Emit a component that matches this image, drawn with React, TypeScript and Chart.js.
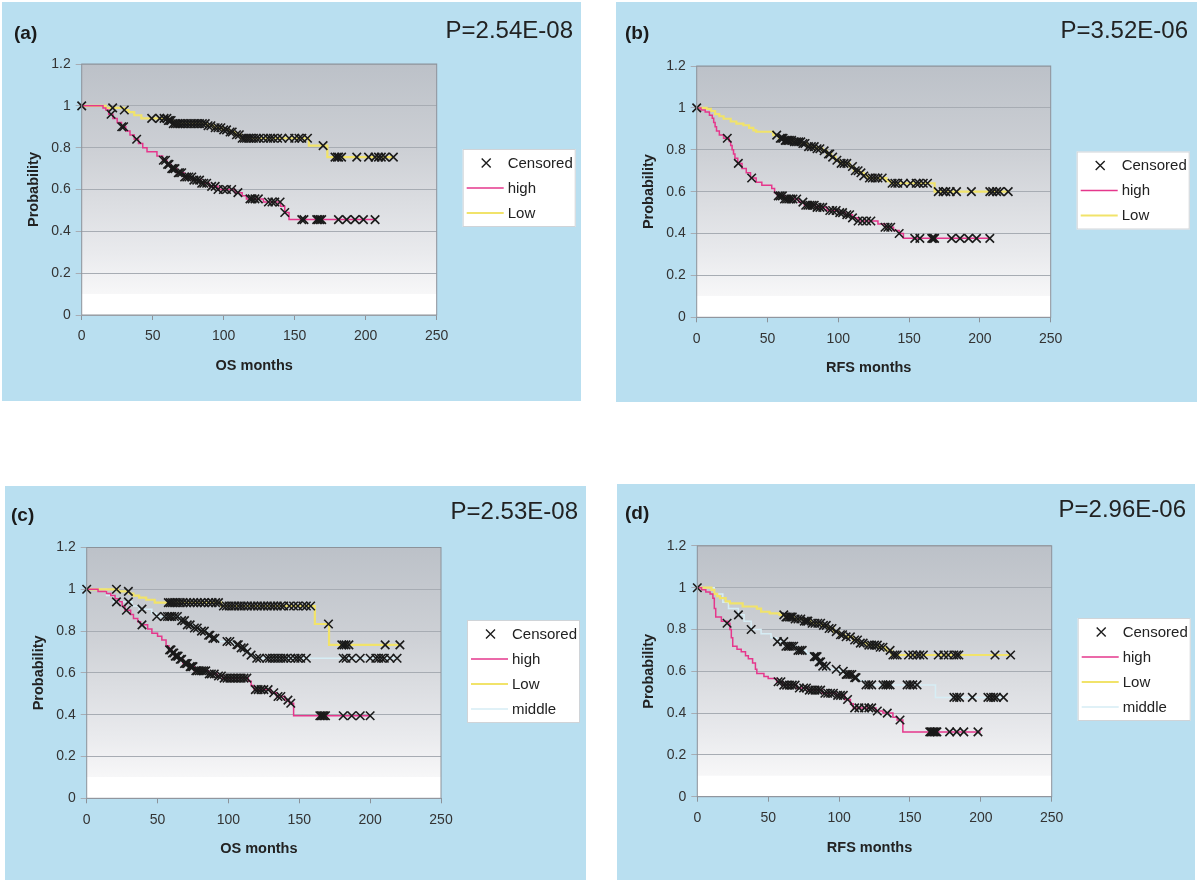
import React, { useEffect, useRef } from "react";
import { Chart, registerables } from "chart.js";
Chart.register(...registerables);

const FONT = "'Liberation Sans', Arial, Helvetica, sans-serif";
const PANEL_BG = "#b9dff0";

const xTickValues = [0, 50, 100, 150, 200, 250];
const xTickLabels = ["0", "50", "100", "150", "200", "250"];
const yTickValues = [0, 0.2, 0.4, 0.6, 0.8, 1, 1.2];
const yTickLabels = ["0", "0.2", "0.4", "0.6", "0.8", "1", "1.2"];

// ---------- Panel (a) OS, high / Low ----------
const aHighT = [0, 15, 17, 19, 22, 25, 28, 31, 34, 37, 40, 43, 46, 53, 57, 60, 63, 67, 72, 78, 84, 90, 96, 108, 113, 116, 128, 140, 143, 146, 207];
const aHighP = [1, 0.99, 0.98, 0.96, 0.94, 0.92, 0.9, 0.88, 0.86, 0.84, 0.82, 0.8, 0.78, 0.76, 0.74, 0.72, 0.7, 0.68, 0.66, 0.645, 0.63, 0.615, 0.6, 0.585, 0.57, 0.555, 0.54, 0.52, 0.49, 0.456, 0.456];
const aLowT = [0, 17, 30, 33, 37, 42, 61, 64, 88, 93, 99, 104, 108, 112, 160, 173, 220];
const aLowP = [1, 0.99, 0.98, 0.97, 0.955, 0.94, 0.93, 0.915, 0.905, 0.895, 0.885, 0.875, 0.862, 0.845, 0.81, 0.755, 0.755];
const aCensHigh = [[20.7, 0.96], [28.2, 0.9], [29.5, 0.9], [38.7, 0.84], [57.5, 0.74], [59, 0.74], [60.5, 0.72], [61.5, 0.72], [63.4, 0.7], [64.5, 0.7], [65.7, 0.7], [68, 0.68], [69, 0.68], [70.4, 0.68], [72.5, 0.66], [74, 0.66], [75.5, 0.66], [77.5, 0.66], [79, 0.645], [81, 0.645], [83, 0.645], [84.5, 0.63], [86, 0.63], [88, 0.63], [91.5, 0.615], [94, 0.615], [96, 0.6], [99.8, 0.6], [102, 0.6], [105.6, 0.6], [110, 0.585], [118.5, 0.555], [120, 0.555], [122, 0.555], [124.4, 0.555], [131.5, 0.54], [134, 0.54], [136, 0.54], [139.7, 0.54], [143, 0.49], [155, 0.456], [156.5, 0.456], [165.5, 0.456], [166.5, 0.456], [167.8, 0.456], [169, 0.456], [180.8, 0.456], [186.6, 0.456], [192.5, 0.456], [198.4, 0.456], [206.6, 0.456]];
const aCensLow = [[0, 1], [21.8, 0.99], [30, 0.98], [49.3, 0.94], [55, 0.94], [58, 0.94], [60, 0.94], [61, 0.93], [62, 0.93], [63, 0.93], [64.5, 0.915], [66, 0.915], [67.5, 0.915], [69, 0.915], [71, 0.915], [73, 0.915], [75, 0.915], [77, 0.915], [79, 0.915], [81, 0.915], [83, 0.915], [85, 0.915], [87, 0.915], [89, 0.905], [91, 0.905], [94, 0.895], [96, 0.895], [98, 0.895], [100, 0.885], [102, 0.885], [104.5, 0.875], [106, 0.875], [109, 0.862], [111, 0.862], [113, 0.845], [114.5, 0.845], [116, 0.845], [117.5, 0.845], [119, 0.845], [121, 0.845], [123, 0.845], [125, 0.845], [128, 0.845], [131, 0.845], [133, 0.845], [135, 0.845], [138, 0.845], [141, 0.845], [146, 0.845], [150, 0.845], [153, 0.845], [155, 0.845], [159, 0.845], [170, 0.81], [178.4, 0.755], [180, 0.755], [181, 0.755], [183, 0.755], [193.7, 0.755], [202, 0.755], [206.6, 0.755], [209, 0.755], [211, 0.755], [213.6, 0.755], [219.5, 0.755]];

// ---------- Panel (b) RFS, high / Low ----------
const bHighT = [0, 3, 6, 9, 11, 12, 13, 14, 16, 19, 23, 24, 25, 26, 27, 29, 32, 35, 38, 42, 46, 53, 55, 57, 62, 72, 76, 84, 92, 100, 105, 110, 114, 128, 133, 139, 143, 146, 207];
const bHighP = [1, 0.99, 0.98, 0.965, 0.95, 0.93, 0.91, 0.89, 0.87, 0.855, 0.84, 0.82, 0.8, 0.78, 0.76, 0.735, 0.71, 0.69, 0.665, 0.645, 0.63, 0.615, 0.595, 0.58, 0.565, 0.55, 0.535, 0.525, 0.51, 0.5, 0.49, 0.475, 0.46, 0.445, 0.43, 0.415, 0.4, 0.377, 0.377];
const bLowT = [0, 7, 10, 13, 16, 19, 24, 28, 33, 37, 40, 42, 54, 58, 62, 68, 74, 78, 84, 89, 92, 95, 98, 101, 108, 111, 115, 118, 121, 134, 137, 168, 221];
const bLowP = [1, 0.995, 0.985, 0.97, 0.96, 0.948, 0.935, 0.925, 0.917, 0.905, 0.893, 0.886, 0.87, 0.855, 0.845, 0.838, 0.83, 0.815, 0.805, 0.795, 0.78, 0.765, 0.75, 0.735, 0.72, 0.7, 0.69, 0.675, 0.665, 0.65, 0.64, 0.6, 0.6];
const bCensHigh = [[21.6, 0.855], [29.4, 0.735], [38.8, 0.665], [57.6, 0.58], [59, 0.58], [60.5, 0.58], [62, 0.565], [63.5, 0.565], [65, 0.565], [66.5, 0.565], [68, 0.565], [70.6, 0.565], [75, 0.55], [77, 0.535], [78.5, 0.535], [80, 0.535], [81.5, 0.535], [83, 0.535], [85, 0.525], [87, 0.525], [89, 0.525], [94, 0.51], [96, 0.51], [98.5, 0.51], [101, 0.5], [103, 0.5], [106, 0.49], [108, 0.49], [110, 0.475], [114, 0.46], [117, 0.46], [120, 0.46], [123, 0.46], [133, 0.43], [135, 0.43], [137, 0.43], [143, 0.4], [154, 0.377], [157.6, 0.377], [166, 0.377], [167, 0.377], [168, 0.377], [180, 0.377], [186, 0.377], [192, 0.377], [197.6, 0.377], [207, 0.377]];
const bCensLow = [[0, 1], [56.5, 0.87], [59, 0.855], [60, 0.855], [61, 0.855], [62.5, 0.845], [63.5, 0.845], [64.5, 0.845], [65.5, 0.845], [67, 0.845], [69, 0.838], [70.5, 0.838], [72, 0.838], [73.5, 0.838], [75, 0.83], [76.5, 0.83], [79, 0.815], [81, 0.815], [83, 0.815], [85, 0.805], [87, 0.805], [90, 0.795], [93, 0.78], [94, 0.78], [96, 0.765], [99, 0.75], [102, 0.735], [104, 0.735], [106, 0.735], [110, 0.72], [112, 0.7], [114, 0.7], [116, 0.69], [118, 0.675], [122, 0.665], [124, 0.665], [126, 0.665], [128, 0.665], [131, 0.665], [138, 0.64], [140, 0.64], [142, 0.64], [146, 0.64], [151, 0.64], [155, 0.64], [157, 0.64], [160, 0.64], [163, 0.64], [170.6, 0.6], [174, 0.6], [176, 0.6], [179, 0.6], [183.5, 0.6], [194, 0.6], [207, 0.6], [209, 0.6], [211.8, 0.6], [214, 0.6], [220, 0.6]];

// ---------- Panel (c) OS, high / Low / middle ----------
const cHighT = [0, 8, 14, 17, 20, 23, 25, 27, 31, 33, 36, 38, 43, 46, 50, 53, 56, 58, 60, 62, 65, 68, 72, 76, 86, 92, 96, 114, 116, 118, 130, 134, 140, 143, 146, 200];
const cHighP = [1, 0.99, 0.98, 0.97, 0.955, 0.94, 0.92, 0.9, 0.88, 0.86, 0.845, 0.83, 0.81, 0.79, 0.775, 0.757, 0.73, 0.71, 0.695, 0.68, 0.665, 0.645, 0.63, 0.61, 0.595, 0.585, 0.575, 0.56, 0.54, 0.52, 0.505, 0.487, 0.47, 0.455, 0.395, 0.395];
const cLowT = [0, 22, 30, 33, 37, 42, 48, 95, 161, 171, 221];
const cLowP = [1, 0.99, 0.98, 0.97, 0.96, 0.95, 0.936, 0.92, 0.834, 0.734, 0.734];
const cMidT = [0, 14, 19, 32, 37, 46, 49, 66, 70, 75, 80, 85, 88, 92, 104, 108, 112, 115, 118, 219];
const cMidP = [1, 0.97, 0.94, 0.92, 0.905, 0.885, 0.87, 0.85, 0.83, 0.815, 0.8, 0.78, 0.765, 0.75, 0.735, 0.72, 0.7, 0.685, 0.67, 0.67];
const cCensHigh = [[28, 0.9], [39, 0.83], [58.5, 0.71], [59.5, 0.71], [60.5, 0.695], [61.5, 0.695], [62.5, 0.68], [63.5, 0.68], [64.5, 0.68], [66, 0.665], [67, 0.665], [69, 0.645], [70, 0.645], [71, 0.645], [73, 0.63], [74, 0.63], [75, 0.63], [77, 0.61], [78, 0.61], [79.5, 0.61], [81, 0.61], [82.5, 0.61], [84, 0.61], [86.5, 0.595], [88, 0.595], [90, 0.595], [93, 0.585], [95, 0.585], [97, 0.575], [99, 0.575], [101, 0.575], [103, 0.575], [105, 0.575], [107, 0.575], [109, 0.575], [111, 0.575], [113, 0.575], [119, 0.52], [121, 0.52], [123, 0.52], [125, 0.52], [128, 0.52], [132, 0.505], [135, 0.487], [137, 0.487], [142, 0.47], [144, 0.455], [164.5, 0.395], [165.5, 0.395], [166.5, 0.395], [167.5, 0.395], [168.5, 0.395], [181, 0.395], [187, 0.395], [193, 0.395], [200, 0.395]];
const cCensLow = [[0, 1], [21, 1], [29.4, 0.99], [57.6, 0.936], [59, 0.936], [60.5, 0.936], [62, 0.936], [64, 0.936], [66, 0.936], [68, 0.936], [70.5, 0.936], [73, 0.936], [75.5, 0.936], [78, 0.936], [80.5, 0.936], [83, 0.936], [86, 0.936], [88.5, 0.936], [91, 0.936], [93, 0.936], [96.5, 0.92], [98.5, 0.92], [100.5, 0.92], [102.5, 0.92], [104.5, 0.92], [107, 0.92], [109, 0.92], [111, 0.92], [113.5, 0.92], [116, 0.92], [118, 0.92], [120.5, 0.92], [123, 0.92], [125, 0.92], [127.5, 0.92], [130, 0.92], [132, 0.92], [134.5, 0.92], [137, 0.92], [139, 0.92], [143, 0.92], [146, 0.92], [149, 0.92], [152.5, 0.92], [155, 0.92], [158, 0.92], [170.6, 0.834], [180, 0.734], [181.5, 0.734], [183, 0.734], [185, 0.734], [210.6, 0.734], [221, 0.734]];
const cCensMid = [[21, 0.94], [29.4, 0.94], [39, 0.905], [49.4, 0.87], [55, 0.87], [57, 0.87], [58.5, 0.87], [60, 0.87], [62, 0.87], [64, 0.87], [67, 0.85], [69, 0.85], [71, 0.83], [73, 0.83], [76, 0.815], [78, 0.815], [81, 0.8], [83, 0.8], [86, 0.78], [87, 0.78], [89, 0.765], [90.5, 0.765], [99, 0.75], [101, 0.75], [106, 0.735], [107, 0.735], [109, 0.72], [111, 0.72], [113, 0.7], [116, 0.685], [120, 0.67], [122, 0.67], [127, 0.67], [129, 0.67], [131, 0.67], [133, 0.67], [135, 0.67], [137, 0.67], [139, 0.67], [141, 0.67], [144, 0.67], [147, 0.67], [149, 0.67], [151, 0.67], [155, 0.67], [181, 0.67], [183, 0.67], [187, 0.67], [193, 0.67], [200, 0.67], [204, 0.67], [206, 0.67], [208, 0.67], [210, 0.67], [214, 0.67], [219, 0.67]];

// ---------- Panel (d) RFS, high / Low / middle ----------
const dHighT = [0, 3, 6, 9, 11, 12, 13, 17, 21, 23, 24, 25, 28, 31, 34, 36, 39, 41, 42, 47, 50, 56, 60, 70, 78, 88, 98, 104, 108, 110, 126, 131, 138, 141, 145, 200];
const dHighP = [1, 0.99, 0.98, 0.97, 0.95, 0.9, 0.86, 0.84, 0.83, 0.8, 0.76, 0.72, 0.705, 0.694, 0.675, 0.66, 0.64, 0.61, 0.59, 0.575, 0.566, 0.55, 0.534, 0.52, 0.51, 0.495, 0.485, 0.465, 0.445, 0.425, 0.41, 0.4, 0.38, 0.367, 0.31, 0.31];
const dLowT = [0, 10, 12, 14, 16, 20, 23, 32, 42, 45, 51, 58, 62, 68, 75, 80, 88, 92, 96, 100, 104, 110, 114, 120, 128, 133, 137, 221];
const dLowP = [1, 0.99, 0.97, 0.96, 0.95, 0.935, 0.925, 0.91, 0.9, 0.885, 0.877, 0.87, 0.86, 0.85, 0.84, 0.83, 0.82, 0.805, 0.79, 0.775, 0.765, 0.75, 0.735, 0.725, 0.715, 0.7, 0.678, 0.678];
const dMidT = [0, 12, 18, 22, 29, 33, 38, 45, 52, 56, 62, 70, 77, 82, 85, 88, 92, 100, 104, 110, 114, 118, 168, 217];
const dMidP = [1, 0.97, 0.93, 0.9, 0.87, 0.84, 0.8, 0.78, 0.76, 0.742, 0.72, 0.7, 0.685, 0.67, 0.645, 0.625, 0.61, 0.6, 0.585, 0.57, 0.555, 0.535, 0.475, 0.475];
const dCensHigh = [[21, 0.83], [57, 0.55], [59, 0.55], [61, 0.534], [63, 0.534], [65, 0.534], [67, 0.534], [69, 0.534], [72, 0.52], [75, 0.52], [77, 0.52], [79, 0.51], [81, 0.51], [83, 0.51], [85, 0.51], [87, 0.51], [90, 0.495], [92, 0.495], [94, 0.495], [96, 0.495], [99, 0.485], [101, 0.485], [103, 0.485], [106, 0.465], [111, 0.425], [114, 0.425], [118, 0.425], [121, 0.425], [123, 0.425], [127, 0.41], [134, 0.4], [143, 0.367], [164, 0.31], [165, 0.31], [166, 0.31], [167, 0.31], [168, 0.31], [169, 0.31], [178, 0.31], [183, 0.31], [188, 0.31], [198, 0.31]];
const dCensLow = [[0, 1], [61, 0.87], [62.5, 0.86], [63.5, 0.86], [65, 0.86], [66, 0.86], [67, 0.86], [69, 0.85], [71, 0.85], [73, 0.85], [75.5, 0.84], [77, 0.84], [78, 0.84], [81, 0.83], [83, 0.83], [85, 0.83], [87, 0.83], [89, 0.82], [91, 0.82], [93, 0.805], [95, 0.805], [98, 0.79], [101, 0.775], [102.5, 0.775], [105, 0.765], [108, 0.765], [111, 0.75], [113, 0.75], [115, 0.735], [117, 0.735], [121, 0.725], [123, 0.725], [125, 0.725], [127, 0.725], [129, 0.715], [131, 0.715], [136, 0.7], [138, 0.678], [139.5, 0.678], [141, 0.678], [149, 0.678], [152, 0.678], [155, 0.678], [157, 0.678], [159.5, 0.678], [170, 0.678], [174, 0.678], [177, 0.678], [181, 0.678], [183, 0.678], [184.5, 0.678], [210, 0.678], [221, 0.678]];
const dCensMid = [[29, 0.87], [38, 0.8], [56.5, 0.742], [61, 0.742], [62.5, 0.72], [64, 0.72], [65, 0.72], [66.5, 0.72], [68, 0.72], [71, 0.7], [72.5, 0.7], [74, 0.7], [82.5, 0.67], [83.5, 0.67], [84.5, 0.67], [86, 0.645], [87, 0.645], [88.5, 0.625], [91, 0.625], [98, 0.61], [103, 0.6], [105, 0.585], [106, 0.585], [107.5, 0.585], [109, 0.585], [111, 0.57], [112, 0.57], [119, 0.535], [121, 0.535], [123, 0.535], [131, 0.535], [133, 0.535], [134.5, 0.535], [136, 0.535], [148, 0.535], [150, 0.535], [152, 0.535], [155, 0.535], [181, 0.475], [183, 0.475], [185, 0.475], [194, 0.475], [205, 0.475], [207, 0.475], [209, 0.475], [211, 0.475], [216, 0.475]];

const seriesStyle: Record<string, { color: string; width: number }> = {
  high: { color: "#e5378c", width: 1.5 },
  Low: { color: "#f1e36a", width: 2.2 },
  middle: { color: "#d6edf5", width: 1.5 },
};

type Layout = { x: number; y: number; w: number; h: number; plotL: number; plotT: number; plotR: number; plotB: number; tagX: number; tagY: number; pRight: number; pY: number; legT: number };

const panels = [
  {
    tag: "(a)", pValue: "P=2.54E-08", xTitle: "OS months",
    curves: [{ label: "high", t: aHighT, p: aHighP }, { label: "Low", t: aLowT, p: aLowP }],
    censored: [aCensHigh, aCensLow],
    layout: { x: 2, y: 2, w: 579, h: 399, plotL: 81.7, plotT: 64, plotR: 436.7, plotB: 315, tagX: 14, tagY: 39, pRight: 573, pY: 38, legT: 149 } as Layout,
  },
  {
    tag: "(b)", pValue: "P=3.52E-06", xTitle: "RFS months",
    curves: [{ label: "high", t: bHighT, p: bHighP }, { label: "Low", t: bLowT, p: bLowP }],
    censored: [bCensHigh, bCensLow],
    layout: { x: 616, y: 2, w: 581, h: 400, plotL: 696.7, plotT: 66, plotR: 1050.7, plotB: 317.3, tagX: 625, tagY: 39, pRight: 1188, pY: 38, legT: 151.5 } as Layout,
  },
  {
    tag: "(c)", pValue: "P=2.53E-08", xTitle: "OS months",
    curves: [{ label: "high", t: cHighT, p: cHighP }, { label: "Low", t: cLowT, p: cLowP }, { label: "middle", t: cMidT, p: cMidP }],
    censored: [cCensHigh, cCensLow, cCensMid],
    layout: { x: 5, y: 486, w: 581, h: 394, plotL: 86.7, plotT: 547.5, plotR: 441, plotB: 798.3, tagX: 11, tagY: 521, pRight: 578, pY: 519, legT: 620 } as Layout,
  },
  {
    tag: "(d)", pValue: "P=2.96E-06", xTitle: "RFS months",
    curves: [{ label: "high", t: dHighT, p: dHighP }, { label: "Low", t: dLowT, p: dLowP }, { label: "middle", t: dMidT, p: dMidP }],
    censored: [dCensHigh, dCensLow, dCensMid],
    layout: { x: 617, y: 484, w: 578, h: 396, plotL: 697.3, plotT: 545.9, plotR: 1051.7, plotB: 796.7, tagX: 625, tagY: 519, pRight: 1186, pY: 517, legT: 618 } as Layout,
  },
];

const YW = 50;
const XH = 40;

function Panel({ cfg }: { cfg: any }) {
  const ref = useRef<HTMLCanvasElement>(null);
  const L: Layout = cfg.layout;
  useEffect(() => {
    if (!ref.current) return;
    const padding = {
      left: L.plotL - L.x - YW,
      top: L.plotT - L.y,
      right: L.x + L.w - L.plotR,
      bottom: L.y + L.h - L.plotB - XH,
    };
    const censoredData = (cfg.censored as number[][][]).flat().map(([x, y]) => ({ x, y }));
    const datasets: any[] = [
      {
        label: "Censored",
        data: censoredData,
        showLine: false,
        pointStyle: "crossRot",
        pointRadius: 6,
        pointHoverRadius: 6,
        pointBorderColor: "#1a1a1a",
        pointBackgroundColor: "rgba(0,0,0,0)",
        pointBorderWidth: 1.6,
        borderColor: "#1a1a1a",
        clip: false,
      },
      ...cfg.curves.map((c: any) => ({
        label: c.label,
        data: c.t.map((t: number, i: number) => ({ x: t, y: c.p[i] })),
        stepped: "before",
        borderColor: seriesStyle[c.label].color,
        borderWidth: seriesStyle[c.label].width,
        pointRadius: 0,
        pointHoverRadius: 0,
        fill: false,
        clip: false,
      })),
    ];

    const bgPlugin = {
      id: "plotBg",
      beforeDraw(chart: any) {
        const { ctx, chartArea } = chart;
        const { left, top, right, bottom } = chartArea;
        ctx.save();
        const g = ctx.createLinearGradient(0, top, 0, bottom);
        g.addColorStop(0, "#bcc1c8");
        g.addColorStop(0.35, "#cdd0d5");
        g.addColorStop(0.55, "#dbdde1");
        g.addColorStop(0.75, "#e9eaed");
        g.addColorStop(0.915, "#f7f7f8");
        g.addColorStop(0.917, "#ffffff");
        g.addColorStop(1, "#ffffff");
        ctx.fillStyle = g;
        ctx.fillRect(left, top, right - left, bottom - top);
        ctx.restore();
      },
    };

    const decorPlugin = {
      id: "decor",
      afterDraw(chart: any) {
        const { ctx, chartArea } = chart;
        const { left, top, right, bottom } = chartArea;
        ctx.save();
        ctx.strokeStyle = "#8c9299";
        ctx.lineWidth = 1;
        ctx.strokeRect(left, top, right - left, bottom - top);

        ctx.fillStyle = "#1a1a1a";
        ctx.font = `bold 19px ${FONT}`;
        ctx.textAlign = "left";
        ctx.textBaseline = "alphabetic";
        ctx.fillText(cfg.tag, L.tagX - L.x, L.tagY - L.y);
        ctx.font = `24px ${FONT}`;
        ctx.textAlign = "right";
        ctx.fillStyle = "#222";
        ctx.fillText(cfg.pValue, L.pRight - L.x, L.pY - L.y);

        ctx.font = `bold 14.5px ${FONT}`;
        ctx.textAlign = "center";
        ctx.textBaseline = "middle";
        ctx.fillStyle = "#222";
        ctx.save();
        ctx.translate(left - 48, (top + bottom) / 2);
        ctx.rotate(-Math.PI / 2);
        ctx.fillText("Probability", 0, 0);
        ctx.restore();
        ctx.fillText(cfg.xTitle, (left + right) / 2 - 5, bottom + 51);

        const labels = ["Censored", ...cfg.curves.map((c: any) => c.label)];
        const lx = right + 26;
        const ly = L.legT - L.y;
        const lw = 113;
        const lh = 14 + 25 * (labels.length - 1) + 14;
        ctx.fillStyle = "#ffffff";
        ctx.fillRect(lx, ly, lw, lh);
        ctx.strokeStyle = "#d0d4d8";
        ctx.lineWidth = 1;
        ctx.strokeRect(lx + 0.5, ly + 0.5, lw - 1, lh - 1);
        ctx.font = `15px ${FONT}`;
        ctx.textAlign = "left";
        ctx.textBaseline = "middle";
        labels.forEach((lab: string, i: number) => {
          const ry = ly + 14 + 25 * i;
          if (lab === "Censored") {
            ctx.strokeStyle = "#1d1d1d";
            ctx.lineWidth = 1.4;
            ctx.beginPath();
            ctx.moveTo(lx + 19, ry - 4.5);
            ctx.lineTo(lx + 28, ry + 4.5);
            ctx.moveTo(lx + 28, ry - 4.5);
            ctx.lineTo(lx + 19, ry + 4.5);
            ctx.stroke();
          } else {
            ctx.strokeStyle = seriesStyle[lab].color;
            ctx.lineWidth = seriesStyle[lab].width;
            ctx.beginPath();
            ctx.moveTo(lx + 4, ry);
            ctx.lineTo(lx + 41, ry);
            ctx.stroke();
          }
          ctx.fillStyle = "#222";
          ctx.fillText(lab, lx + 45, ry + 0.5);
        });
        ctx.restore();
      },
    };

    const chart = new Chart(ref.current, {
      type: "line",
      data: { datasets },
      options: {
        responsive: false,
        animation: false,
        events: [],
        layout: { padding },
        plugins: { legend: { display: false }, tooltip: { enabled: false }, title: { display: false } },
        scales: {
          x: {
            type: "linear",
            position: "bottom",
            min: 0,
            max: 250,
            afterBuildTicks: (s: any) => {
              s.ticks = xTickValues.map((v) => ({ value: v }));
            },
            afterFit: (s: any) => {
              s.height = XH;
            },
            ticks: {
              callback: (_v: any, i: number) => xTickLabels[i],
              font: { family: FONT, size: 14 },
              color: "#333",
              padding: 8,
              maxRotation: 0,
              autoSkip: false,
            },
            grid: { drawOnChartArea: false, drawTicks: true, tickLength: 5, color: "#8c9299", lineWidth: 1 },
            border: { display: false },
          },
          y: {
            type: "linear",
            position: "left",
            min: 0,
            max: 1.2,
            afterBuildTicks: (s: any) => {
              s.ticks = yTickValues.map((v) => ({ value: v }));
            },
            afterFit: (s: any) => {
              s.width = YW;
            },
            ticks: {
              callback: (_v: any, i: number) => yTickLabels[i],
              font: { family: FONT, size: 14 },
              color: "#333",
              padding: 5,
              autoSkip: false,
            },
            grid: { drawOnChartArea: true, drawTicks: true, tickLength: 6, color: "#a7acb3", lineWidth: 1 },
            border: { display: false },
          },
        },
      } as any,
      plugins: [bgPlugin, decorPlugin],
    });
    return () => chart.destroy();
  }, [cfg]);

  return (
    <div style={{ position: "absolute", left: L.x, top: L.y, width: L.w, height: L.h, background: PANEL_BG }}>
      <canvas ref={ref} width={L.w} height={L.h} style={{ display: "block", width: L.w, height: L.h }} />
    </div>
  );
}

export default function App() {
  return (
    <div style={{ position: "absolute", left: 0, top: 0, width: 1200, height: 885, background: "#ffffff" }}>
      {panels.map((p, i) => (
        <Panel key={i} cfg={p} />
      ))}
    </div>
  );
}
